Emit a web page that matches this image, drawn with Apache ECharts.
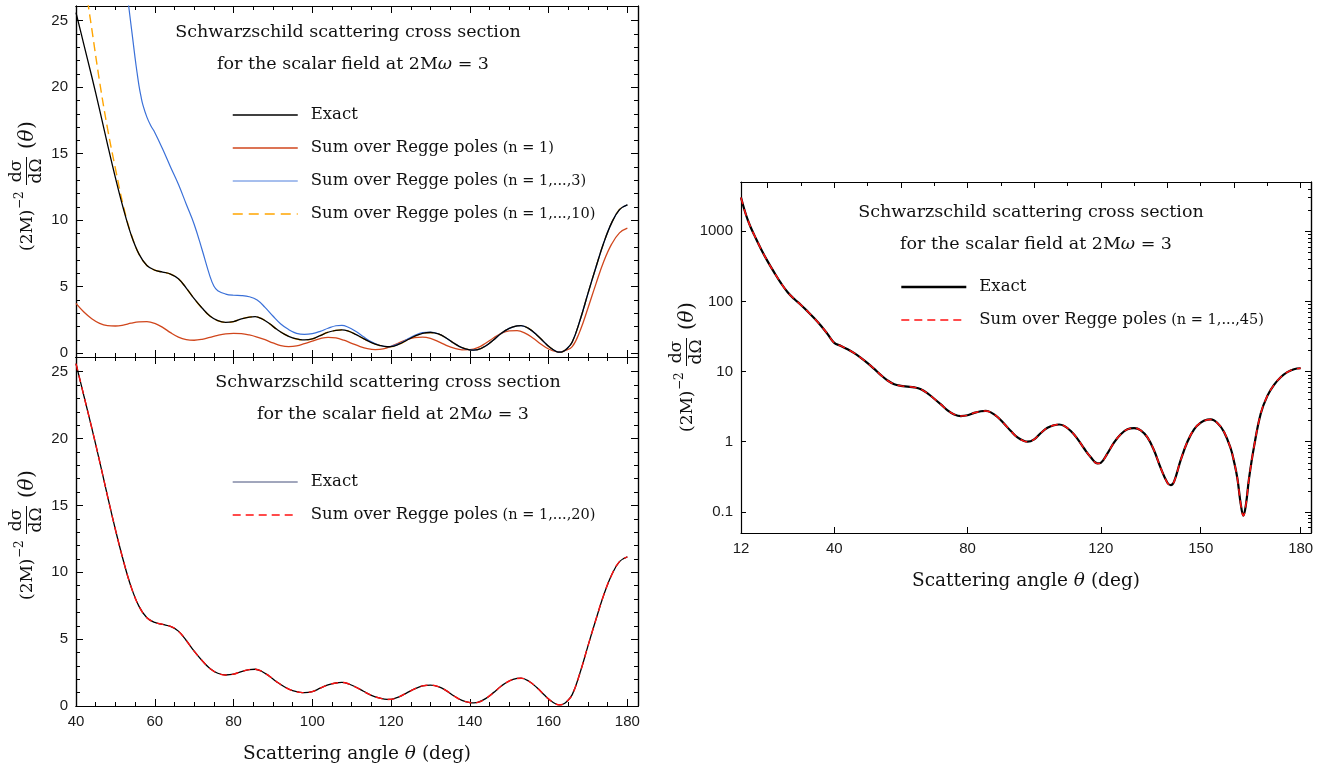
<!DOCTYPE html>
<html>
<head>
<meta charset="utf-8">
<script src="https://cdn.jsdelivr.net/npm/echarts@6/dist/echarts.min.js"></script>
<style>
  html, body { margin: 0; padding: 0; background: #fff; }
  #chart { width: 1325px; height: 773px; }
</style>
</head>
<body>
<div id="chart"></div>
<script>
// Scattering angle grid (deg) and exact cross section (2M)^-2 dσ/dΩ
const exactTheta = [12,13,14,15,16,18,20,22,24,26,28,30,32,34,36,38,40,42,44,46,48,50,52,54,56,58,60,62,64,66,68,70,72,74,76,78,80,82,84,85.5,87,89,91,93,95,97,98,100,102,104,106,107.5,109,111,113,115,117,119,120,122,124,126,128,130,132,134,136,138,140,141,142,144,146,148,150,152,153,155,157,159,160,161,162,162.8,163.6,164.5,166,168,170,172,174,176,178,180];
const exactValues = [3020,2040,1460,1110,880,560,372,257,182,135,108,89,72,57.5,45,34.2,25.6,23.2,20.8,18.3,15.7,13.2,10.9,8.9,7.45,6.6,6.25,6.1,5.95,5.6,4.9,4.1,3.4,2.8,2.45,2.32,2.38,2.58,2.72,2.75,2.62,2.25,1.8,1.42,1.15,1.02,1.0,1.08,1.33,1.58,1.72,1.76,1.68,1.42,1.1,0.8,0.6,0.49,0.5,0.68,0.98,1.28,1.5,1.56,1.45,1.15,0.75,0.42,0.26,0.24,0.27,0.55,1.0,1.5,1.87,2.06,2.08,1.85,1.38,0.8,0.52,0.3,0.13,0.088,0.13,0.3,0.85,2.5,4.5,6.45,8.3,9.8,10.8,11.15];

// Regge pole sum, n = 1
const regge1Theta = [40,42,44,46,48,50,52,54,56,58,60,62,64,66,68,70,72,74,76,78,80,82,84,86,88,90,92,94,96,98,100,102,104,106,108,110,112,114,116,118,120,122,124,126,128,130,132,134,136,138,140,142,144,146,148,150,152,154,156,158,160,162,163,164,166,168,170,172,174,176,178,180];
const regge1Values = [3.75,3.1,2.6,2.25,2.08,2.05,2.12,2.26,2.36,2.38,2.25,1.95,1.55,1.22,1.03,0.98,1.05,1.2,1.35,1.46,1.5,1.48,1.38,1.22,1.02,0.78,0.58,0.5,0.55,0.72,0.92,1.1,1.2,1.15,0.98,0.75,0.52,0.35,0.28,0.33,0.52,0.78,1.02,1.18,1.22,1.12,0.88,0.6,0.38,0.26,0.27,0.42,0.75,1.15,1.5,1.68,1.7,1.52,1.15,0.7,0.32,0.12,0.1,0.18,0.5,1.7,3.4,5.2,6.9,8.2,9.05,9.4];

// Regge pole sum, n = 1,...,3
const regge3Theta = [52,53,53.5,54,54.5,55,55.5,56,56.5,57,58,59,60,62,64,66,68,70,72,74,75,76,78,80,82,84,86,88,90,92,94,96,98,100,102,104,106,107.5,109,111,113,115,117,119,120,122,124,126,128,130,132,134,136,138,140,141,142,144,146,148,150,152,153,155,157,159,160,161,162,162.8,163.6,164.5,166,168,170,172,174,176,178,180];
const regge3Values = [29.4,27.0,25.8,24.6,23.4,22.2,21.1,20.1,19.3,18.65,17.75,17.1,16.6,15.35,14.0,12.7,11.2,9.7,7.8,5.8,5.05,4.7,4.45,4.36,4.34,4.25,4.0,3.45,2.8,2.2,1.78,1.5,1.42,1.48,1.65,1.88,2.07,2.1,1.98,1.66,1.24,0.86,0.6,0.5,0.52,0.72,1.04,1.35,1.56,1.6,1.47,1.15,0.75,0.42,0.26,0.24,0.27,0.55,1.0,1.5,1.87,2.06,2.08,1.85,1.38,0.8,0.52,0.3,0.13,0.088,0.13,0.3,0.85,2.5,4.5,6.45,8.3,9.8,10.8,11.15];

// Regge pole sum, n = 1,...,10
const regge10Theta = [42,43,44,46,48,50,52,54,56,58,60,62,64,66,68,70,72,74,76,78,80,82,84,85.5,87,89,91,93,95,97,98,100,102,104,106,107.5,109,111,113,115,117,119,120,122,124,126,128,130,132,134,136,138,140,141,142,144,146,148,150,152,153,155,157,159,160,161,162,162.8,163.6,164.5,166,168,170,172,174,176,178,180];
const regge10Values = [28.6,26.4,24.4,20.4,16.9,13.9,11.1,8.95,7.45,6.6,6.25,6.1,5.95,5.6,4.9,4.1,3.4,2.8,2.45,2.32,2.38,2.58,2.72,2.75,2.62,2.25,1.8,1.42,1.15,1.02,1.0,1.08,1.33,1.58,1.72,1.76,1.68,1.42,1.1,0.8,0.6,0.49,0.5,0.68,0.98,1.28,1.5,1.56,1.45,1.15,0.75,0.42,0.26,0.24,0.27,0.55,1.0,1.5,1.87,2.06,2.08,1.85,1.38,0.8,0.52,0.3,0.13,0.088,0.13,0.3,0.85,2.5,4.5,6.45,8.3,9.8,10.8,11.15];

// Regge pole sum, n = 1,...,20 (on the 40..180 part of the grid)
const regge20Theta = exactTheta.filter(t => t >= 40);
const regge20Values = [25.6,23.2,20.8,18.3,15.7,13.2,10.9,8.9,7.45,6.6,6.25,6.1,5.95,5.6,4.9,4.1,3.4,2.8,2.45,2.32,2.38,2.58,2.72,2.75,2.62,2.25,1.8,1.42,1.15,1.02,1.0,1.08,1.33,1.58,1.72,1.76,1.68,1.42,1.1,0.8,0.6,0.49,0.5,0.68,0.98,1.28,1.5,1.56,1.45,1.15,0.75,0.42,0.26,0.24,0.27,0.55,1.0,1.5,1.87,2.06,2.08,1.85,1.38,0.8,0.52,0.3,0.13,0.088,0.13,0.3,0.85,2.5,4.5,6.45,8.3,9.8,10.8,11.15];

// Regge pole sum, n = 1,...,45 (full grid)
const regge45Values = [3020,2040,1460,1110,880,560,372,257,182,135,108,89,72,57.5,45,34.2,25.6,23.2,20.8,18.3,15.7,13.2,10.9,8.9,7.45,6.6,6.25,6.1,5.95,5.6,4.9,4.1,3.4,2.8,2.45,2.32,2.38,2.58,2.72,2.75,2.62,2.25,1.8,1.42,1.15,1.02,1.0,1.08,1.33,1.58,1.72,1.76,1.68,1.42,1.1,0.8,0.6,0.49,0.5,0.68,0.98,1.28,1.5,1.56,1.45,1.15,0.75,0.42,0.26,0.24,0.27,0.55,1.0,1.5,1.87,2.06,2.08,1.85,1.38,0.8,0.52,0.3,0.13,0.088,0.13,0.3,0.85,2.5,4.5,6.45,8.3,9.8,10.8,11.15];

// Tick values
const linXMajor = [40, 60, 80, 100, 120, 140, 160, 180];
const linYMajor = [0, 5, 10, 15, 20, 25];
const logXLabels = [12, 40, 80, 120, 150, 180];
const logXTopMajor = [20, 40, 60, 80, 100, 120, 140, 160, 180];
const logYMajor = [0.1, 1, 10, 100, 1000];

const linXMinor = [];
for (let t = 45; t < 183; t += 5) if (t % 20 !== 0) linXMinor.push(t);
const linYMinor = [];
for (let v = 1; v < 26; v++) if (v % 5 !== 0) linYMinor.push(v);
const logXTopMinor = [];
for (let t = 30; t < 183; t += 20) logXTopMinor.push(t);
const logYMinor = [];
[0.01, 0.1, 1, 10, 100, 1000].forEach(d => {
  for (let k = 2; k <= 9; k++) {
    const v = +(k * d).toPrecision(3);
    if (v > 0.05 && v < 5030) logYMinor.push(v);
  }
});

const legendText = {
  exactA: 'Exact',
  r1A: 'Sum over Regge poles|(n = 1)',
  r3A: 'Sum over Regge poles|(n = 1,...,3)',
  r10A: 'Sum over Regge poles|(n = 1,...,10)',
  exactB: 'Exact',
  r20B: 'Sum over Regge poles|(n = 1,...,20)',
  exactC: 'Exact',
  r45C: 'Sum over Regge poles|(n = 1,...,45)'
};

const SERIF = '"DejaVu Serif", "Liberation Serif", serif';
const SANS = '"Liberation Sans", Arial, sans-serif';
const INK = '#111';

function pairs(xs, ys) { return xs.map((x, i) => [x, ys[i]]); }

function frameAxis(o) {
  const ax = {
    gridIndex: o.grid,
    type: o.type || 'value',
    position: o.pos,
    min: o.min,
    max: o.max,
    silent: true,
    axisLine: { show: true, onZero: false, lineStyle: { color: '#000', width: 1.2 } },
    axisTick: { show: true, inside: true, length: o.len, customValues: o.ticks, lineStyle: { color: '#000', width: 1 } },
    axisLabel: o.labels
      ? { show: true, customValues: o.ticks, margin: 8, color: '#1a1a1a', fontFamily: SANS, fontSize: 15, formatter: v => String(v) }
      : { show: false },
    splitLine: { show: false },
    minorTick: { show: false },
    minorSplitLine: { show: false }
  };
  if (o.type === 'log') ax.logBase = 10;
  if (o.name) {
    ax.name = o.name;
    ax.nameLocation = 'middle';
    ax.nameGap = o.nameGap;
    ax.nameTextStyle = {
      fontFamily: SERIF, fontSize: 18.5, color: INK,
      rich: { i: { fontFamily: SERIF, fontSize: 18.5, fontStyle: 'italic', color: INK } }
    };
  }
  return ax;
}

const XNAME = 'Scattering angle {i|θ} (deg)';
const LX = [40, 182.7];
const TOPY = [-0.28, 26.1];
const BOTY = [0, 26.1];
const RX = [12, 183.1];
const RY = [0.05, 5030];

const xAxis = [
  // top-left panel
  frameAxis({ grid: 0, pos: 'bottom', min: LX[0], max: LX[1], ticks: linXMajor, len: 7 }),
  frameAxis({ grid: 0, pos: 'bottom', min: LX[0], max: LX[1], ticks: linXMinor, len: 4 }),
  frameAxis({ grid: 0, pos: 'top', min: LX[0], max: LX[1], ticks: linXMajor, len: 7 }),
  frameAxis({ grid: 0, pos: 'top', min: LX[0], max: LX[1], ticks: linXMinor, len: 4 }),
  // bottom-left panel
  frameAxis({ grid: 1, pos: 'bottom', min: LX[0], max: LX[1], ticks: linXMajor, len: 7, labels: true, name: XNAME, nameGap: 39 }),
  frameAxis({ grid: 1, pos: 'bottom', min: LX[0], max: LX[1], ticks: linXMinor, len: 4 }),
  frameAxis({ grid: 1, pos: 'top', min: LX[0], max: LX[1], ticks: linXMajor, len: 7 }),
  frameAxis({ grid: 1, pos: 'top', min: LX[0], max: LX[1], ticks: linXMinor, len: 4 }),
  // right panel
  frameAxis({ grid: 2, pos: 'bottom', min: RX[0], max: RX[1], ticks: logXLabels, len: 6, labels: true, name: XNAME, nameGap: 39 }),
  frameAxis({ grid: 2, pos: 'top', min: RX[0], max: RX[1], ticks: logXTopMajor, len: 6 }),
  frameAxis({ grid: 2, pos: 'top', min: RX[0], max: RX[1], ticks: logXTopMinor, len: 4 })
];

const yAxis = [
  frameAxis({ grid: 0, pos: 'left', min: TOPY[0], max: TOPY[1], ticks: linYMajor, len: 7, labels: true }),
  frameAxis({ grid: 0, pos: 'left', min: TOPY[0], max: TOPY[1], ticks: linYMinor, len: 4 }),
  frameAxis({ grid: 0, pos: 'right', min: TOPY[0], max: TOPY[1], ticks: linYMajor, len: 7 }),
  frameAxis({ grid: 0, pos: 'right', min: TOPY[0], max: TOPY[1], ticks: linYMinor, len: 4 }),
  frameAxis({ grid: 1, pos: 'left', min: BOTY[0], max: BOTY[1], ticks: linYMajor, len: 7, labels: true }),
  frameAxis({ grid: 1, pos: 'left', min: BOTY[0], max: BOTY[1], ticks: linYMinor, len: 4 }),
  frameAxis({ grid: 1, pos: 'right', min: BOTY[0], max: BOTY[1], ticks: linYMajor, len: 7 }),
  frameAxis({ grid: 1, pos: 'right', min: BOTY[0], max: BOTY[1], ticks: linYMinor, len: 4 }),
  frameAxis({ grid: 2, type: 'log', pos: 'left', min: RY[0], max: RY[1], ticks: logYMajor, len: 5, labels: true }),
  frameAxis({ grid: 2, type: 'log', pos: 'right', min: RY[0], max: RY[1], ticks: logYMajor, len: 6 }),
  frameAxis({ grid: 2, type: 'log', pos: 'right', min: RY[0], max: RY[1], ticks: logYMinor, len: 3 })
];

function line(name, axis, data, color, width, z, dashed) {
  return {
    name, type: 'line', xAxisIndex: axis, yAxisIndex: axis, data,
    symbol: 'none', smooth: 0.4, z, silent: true, animation: false,
    lineStyle: { color, width, type: dashed ? dashed : 'solid' },
    itemStyle: { color },
    emphasis: { disabled: true }
  };
}

const exactLeft = pairs(exactTheta, exactValues).filter(p => p[0] >= 40);

const series = [
  line('r10A', 0, pairs(regge10Theta, regge10Values), '#ffa500', 1.4, 2, [9, 5]),
  line('r1A', 0, pairs(regge1Theta, regge1Values), '#d0461c', 1.3, 3),
  line('r3A', 0, pairs(regge3Theta, regge3Values), '#3a70d8', 1.2, 3),
  line('exactA', 0, exactLeft, '#000', 1.3, 4),
  line('exactB', 4, exactLeft, '#000', 1.3, 2),
  line('r20B', 4, pairs(regge20Theta, regge20Values), '#ff1010', 1.4, 3, [7, 5]),
  line('exactC', 8, pairs(exactTheta, exactValues), '#000', 2.2, 2),
  line('r45C', 8, pairs(exactTheta, regge45Values), '#ff1010', 1.5, 3, [7, 5])
];

function legend(left, top, items) {
  return {
    orient: 'vertical', left, top, padding: 0, itemWidth: 65, itemHeight: 14, itemGap: 13,
    selectedMode: false,
    itemStyle: { opacity: 0 },
    data: items,
    formatter: name => {
      const parts = legendText[name].split('|');
      return parts.length > 1 ? '{a|' + parts[0] + '}{b| ' + parts[1] + '}' : '{a|' + parts[0] + '}';
    },
    textStyle: {
      color: INK, fontFamily: SERIF, fontSize: 16.5, lineHeight: 20,
      rich: {
        a: { fontFamily: SERIF, fontSize: 16.5, color: INK, padding: [0, 0, 0, 8], lineHeight: 20 },
        b: { fontFamily: SERIF, fontSize: 14.5, color: INK, lineHeight: 20 }
      }
    }
  };
}

const hidden = { opacity: 0 };
const legends = [
  legend(232, 105, [
    { name: 'exactA', itemStyle: hidden, lineStyle: { width: 1.5, color: '#000', type: 'solid', opacity: 1 } },
    { name: 'r1A', itemStyle: hidden, lineStyle: { width: 1.3, color: '#d0461c', type: 'solid', opacity: 1 } },
    { name: 'r3A', itemStyle: hidden, lineStyle: { width: 0.9, color: '#3a70d8', type: 'solid', opacity: 1 } },
    { name: 'r10A', itemStyle: hidden, lineStyle: { width: 1.5, color: '#ffa500', type: [10, 6], opacity: 1 } }
  ]),
  legend(232, 472, [
    { name: 'exactB', itemStyle: hidden, lineStyle: { width: 0.9, color: '#2f3b6b', type: 'solid', opacity: 1 } },
    { name: 'r20B', itemStyle: hidden, lineStyle: { width: 1.4, color: '#ff1010', type: [8, 5], opacity: 1 } }
  ]),
  legend(900, 277, [
    { name: 'exactC', itemStyle: hidden, lineStyle: { width: 2.6, color: '#000', type: 'solid', opacity: 1 } },
    { name: 'r45C', itemStyle: hidden, lineStyle: { width: 1.5, color: '#ff1010', type: [8, 5], opacity: 1 } }
  ])
];

// two-line caption inside each panel
function caption(cx, y1) {
  const base = { font: '17.5px ' + SERIF, fill: INK, textAlign: 'center', textVerticalAlign: 'middle' };
  return [
    { type: 'text', x: cx, y: y1, silent: true, style: Object.assign({ text: 'Schwarzschild scattering cross section' }, base) },
    { type: 'text', x: cx + 5, y: y1 + 32, silent: true, style: Object.assign({
        text: 'for the scalar field at 2M{w|ω} = 3',
        rich: { w: { fontFamily: SERIF, fontSize: 17.5, fontStyle: 'italic', fill: INK } }
      }, base) }
  ];
}

// vertical axis title (2M)^-2 dσ/dΩ (θ), reading bottom to top
function yTitle(cx, cy) {
  const t = (text, x, y, size, extra) => ({
    type: 'text', x, y, silent: true,
    style: Object.assign({ text, font: size + 'px ' + SERIF, fill: INK, textVerticalAlign: 'middle' }, extra || {})
  });
  return {
    type: 'group', x: cx, y: cy, rotation: Math.PI / 2, silent: true,
    children: [
      t('(2M)', -67, 0, 17),
      t('\u22122', -25, -8, 12),
      t('d\u03c3', 13, -3, 17, { textAlign: 'center', textVerticalAlign: 'bottom' }),
      { type: 'line', silent: true, shape: { x1: -1, y1: -1.5, x2: 27, y2: -1.5 }, style: { stroke: INK, lineWidth: 1 } },
      t('d\u03a9', 13, 0, 17, { textAlign: 'center', textVerticalAlign: 'top' }),
      t('(', 35, 0, 20),
      t('\u03b8', 42.5, 0, 20, { font: 'italic 20px ' + SERIF }),
      t(')', 55, 0, 20)
    ]
  };
}

const graphic = [].concat(
  caption(348, 32),
  caption(388, 382),
  caption(1031, 212),
  [yTitle(28, 184), yTitle(28, 533), yTitle(688, 365)]
);

const chart = echarts.init(document.getElementById('chart'), null, { renderer: 'canvas' });
chart.setOption({
  animation: false,
  backgroundColor: '#fff',
  grid: [
    { left: 76, top: 6, width: 562, height: 351 },
    { left: 76, top: 357, width: 562, height: 349 },
    { left: 741, top: 182, width: 570, height: 351 }
  ],
  xAxis, yAxis, series,
  legend: legends,
  graphic
});
</script>
</body>
</html>
